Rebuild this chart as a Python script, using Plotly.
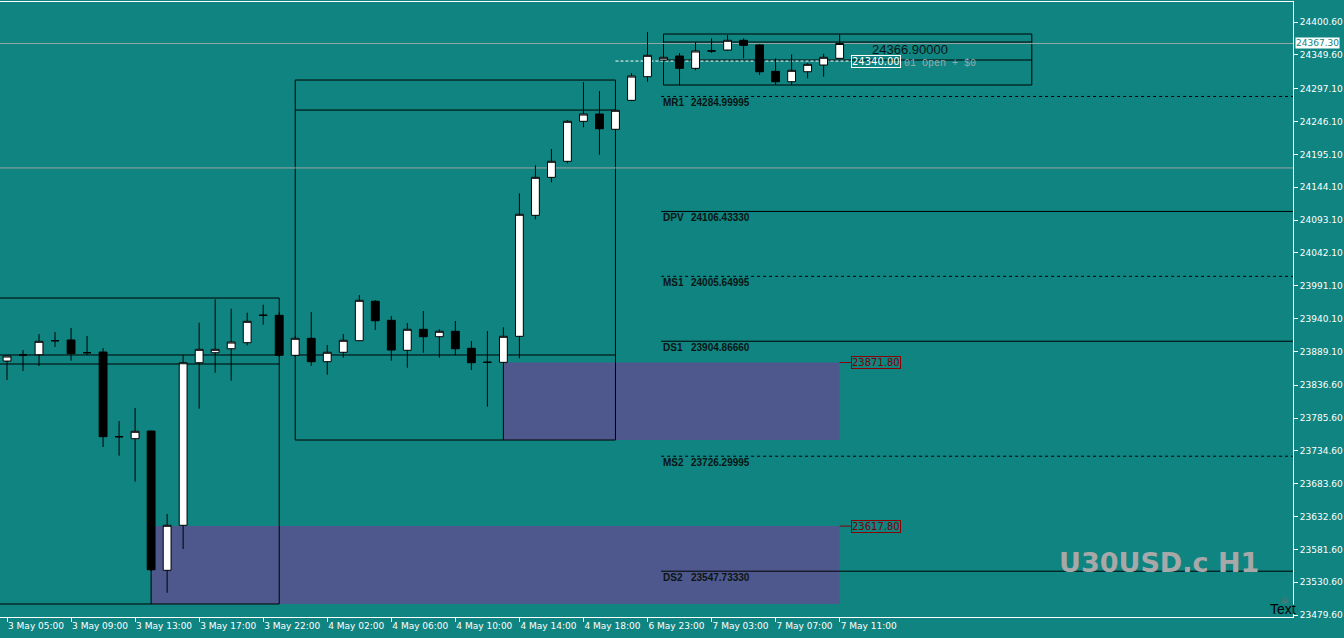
import plotly.graph_objects as go

# ---------------- data ----------------
bar_index = list(range(53))
opens = [23874.1, 23883.4, 23883.9, 23905.6, 23906.8, 23887.0, 23888.1, 23756.5, 23753.5, 23765.4,
         23549.1, 23619.0, 23871.5, 23887.0, 23893.2, 23902.6, 23945.1, 23945.1, 23883.0, 23909.4,
         23873.1, 23887.7, 23905.7, 23966.9, 23937.3, 23890.8, 23923.4, 23911.9, 23920.3, 23893.9,
         23872.1, 23872.1, 23912.5, 24100.4, 24159.4, 24184.3, 24246.4, 24257.7, 24234.0, 24279.0,
         24315.7, 24341.6, 24347.8, 24328.7, 24355.6, 24357.1, 24372.2, 24364.9, 24324.0, 24307.9,
         24323.4, 24333.8, 24344.2]
highs = [23881.9, 23891.2, 23916.1, 23919.2, 23925.4, 23913.0, 23894.3, 23781.0, 23801.2, 23766.0,
         23636.5, 23883.5, 23933.6, 23970.0, 23955.4, 23949.2, 23961.6, 23950.2, 23913.0, 23950.2,
         23899.0, 23916.1, 23976.6, 23968.9, 23944.0, 23933.2, 23951.8, 23923.4, 23936.3, 23905.2,
         23920.7, 23926.5, 24134.6, 24178.1, 24203.4, 24248.4, 24307.4, 24293.5, 24271.7, 24321.4,
         24385.1, 24346.2, 24352.5, 24369.1, 24375.3, 24380.4, 24375.3, 24366.4, 24344.2, 24350.4,
         24337.0, 24351.4, 24381.5]
lows = [23844.6, 23858.6, 23866.4, 23895.9, 23874.6, 23883.5, 23740.6, 23727.1, 23686.7, 23548.0,
        23514.3, 23582.2, 23800.1, 23856.0, 23843.5, 23898.5, 23930.5, 23880.4, 23880.4, 23866.4,
        23852.9, 23879.3, 23905.2, 23922.3, 23874.6, 23863.7, 23887.0, 23879.3, 23883.0, 23860.2,
        23803.2, 23871.8, 23878.3, 24094.2, 24151.7, 24181.2, 24237.1, 24194.5, 24232.9, 24277.9,
        24307.9, 24340.0, 24302.3, 24325.6, 24352.5, 24355.6, 24344.2, 24318.3, 24302.8, 24302.8,
        24313.2, 24315.7, 24344.2]
closes = [23881.9, 23883.5, 23904.7, 23905.7, 23885.5, 23887.1, 23756.6, 23756.6, 23765.0, 23550.0,
          23619.0, 23871.5, 23892.3, 23892.3, 23903.6, 23935.8, 23945.2, 23883.0, 23909.4, 23873.1,
          23887.7, 23906.3, 23968.4, 23936.7, 23891.2, 23923.4, 23911.9, 23920.3, 23893.2, 23871.5,
          23872.2, 23912.5, 24102.0, 24159.4, 24184.3, 24246.4, 24257.7, 24234.9, 24263.5, 24316.7,
          24348.9, 24345.8, 24328.7, 24355.6, 24355.7, 24372.2, 24364.4, 24323.4, 24307.9, 24325.6,
          24334.9, 24345.8, 24367.3]

time_tick_index = [0, 4, 8, 12, 16, 20, 24, 28, 32, 36, 40, 44, 48, 52]
time_tick_labels = ["3 May 05:00", "3 May 09:00", "3 May 13:00", "3 May 17:00", "3 May 22:00",
                    "4 May 02:00", "4 May 06:00", "4 May 10:00", "4 May 14:00", "4 May 18:00",
                    "6 May 23:00", "7 May 03:00", "7 May 07:00", "7 May 11:00"]

price_ticks = [24400.60, 24349.60, 24297.10, 24246.10, 24195.10, 24144.10, 24093.10, 24042.10,
               23991.10, 23940.10, 23889.10, 23836.60, 23785.60, 23734.60, 23683.60, 23632.60,
               23581.60, 23530.60, 23479.60]

pivot_names = ["MR1", "DPV", "MS1", "DS1", "MS2", "DS2"]
pivot_values = [24284.99995, 24106.43330, 24005.64995, 23904.86660, 23726.29995, 23547.73330]
pivot_dashed = [True, False, True, False, True, False]

bid_price = 24367.30
order_price = 24340.00
target_price = 24366.90000
zone_tops = [23871.80, 23617.80]
zone_bottoms = [23751.45, 23496.8]
zone_starts = [31, 9]

box1 = dict(x0=-1, x1=17, y0=23496.8, y1=23972.0, inner=[23883.5, 23869.5])
box2 = dict(x0=18, x1=38, y0=23751.45, y1=24310.5, inner=[24263.9, 23883.5])
box3 = dict(x0=41, x1=64, y0=24302.8, y1=24382.0, inner=[24369.5, 24341.6])
grey_level = 24174.0

# ---------------- styling ----------------
BG = "#108480"
ZONE = "#4f588c"
X_END = 80.4

fig = go.Figure()
fig.add_trace(go.Candlestick(
    x=bar_index, open=opens, high=highs, low=lows, close=closes,
    increasing=dict(fillcolor="white", line=dict(color="black", width=1)),
    decreasing=dict(fillcolor="black", line=dict(color="black", width=1)),
    whiskerwidth=0, showlegend=False, hoverinfo="skip"))

shapes = []
def line(x0, x1, y0, y1, color="black", width=1, dash="solid"):
    shapes.append(dict(type="line", xref="x", yref="y", x0=x0, x1=x1, y0=y0, y1=y1,
                       line=dict(color=color, width=width, dash=dash), layer="below"))

# zones
for s, t, b in zip(zone_starts, zone_tops, zone_bottoms):
    shapes.append(dict(type="rect", xref="x", yref="y", x0=s, x1=52, y0=b, y1=t,
                       fillcolor=ZONE, line=dict(width=0), layer="below"))
    line(s, s, b, t)
# boxes
for bx in (box1, box2, box3):
    shapes.append(dict(type="rect", xref="x", yref="y", x0=bx["x0"], x1=bx["x1"], y0=bx["y0"], y1=bx["y1"],
                       fillcolor="rgba(0,0,0,0)", line=dict(color="black", width=1), layer="below"))
    for lv in bx["inner"]:
        line(bx["x0"], bx["x1"], lv, lv)
# grey lines
line(-1, X_END, bid_price, bid_price, color="#98a6a5")
line(-1, X_END, grey_level, grey_level, color="#98a6a5")
# pivots
for v, d in zip(pivot_values, pivot_dashed):
    line(40.85, X_END, v, v, dash="3px,3px" if d else "solid")
# order line
line(38, 52.7, order_price, order_price, color="white", dash="3px,2px")
# red stubs
for t in zone_tops:
    line(52, 52.7, t, t, color="#8b0000")

annotations = []
for n, v in zip(pivot_names, pivot_values):
    for txt, sh in ((n, 0), ("%.5f" % v, 28)):
        annotations.append(dict(x=40.85, y=v, xref="x", yref="y", text=txt, showarrow=False,
                                xanchor="left", yanchor="middle", xshift=sh, yshift=-6,
                                font=dict(family="Liberation Sans, Arial", size=10, color="#0a1414",
                                          weight="bold")))
for t in zone_tops:
    annotations.append(dict(x=52.7, y=t, xref="x", yref="y", text="%.2f" % t, showarrow=False,
                            xanchor="left", yanchor="middle", bordercolor="#8b0000", borderwidth=1,
                            borderpad=0, font=dict(family="DejaVu Sans", size=10, color="#7a0000")))
annotations.append(dict(x=52.7, y=order_price, xref="x", yref="y", text="%.2f" % order_price,
                        showarrow=False, xanchor="left", yanchor="middle", bordercolor="white",
                        borderwidth=1, borderpad=0, font=dict(family="DejaVu Sans", size=10, color="white")))
annotations.append(dict(x=55.9, y=order_price, xref="x", yref="y", text="01 Open + $0", showarrow=False,
                        xanchor="left", yanchor="middle", yshift=-2,
                        font=dict(family="Liberation Mono", size=10, color="#a0a8a8")))
annotations.append(dict(x=53.9, y=target_price, xref="x", yref="y", text="%.5f" % target_price,
                        showarrow=False, xanchor="left", yanchor="middle", yshift=-6,
                        font=dict(family="Liberation Sans, Arial", size=13, color="#0a1414")))
annotations.append(dict(x=1, y=bid_price, xref="paper", yref="y", text="%.2f" % bid_price, showarrow=False,
                        xanchor="left", yanchor="middle", xshift=2, bgcolor="white", borderpad=0,
                        font=dict(family="DejaVu Sans", size=9, color=BG)))
annotations.append(dict(x=65.6, y=23562, xref="x", yref="y", text="U30USD.c H1", showarrow=False,
                        xanchor="left", yanchor="middle",
                        font=dict(family="DejaVu Sans", size=27, color="#a8a8a8", weight="bold")))
annotations.append(dict(x=1, y=23488.5, xref="paper", yref="y", text="Text", showarrow=False,
                        xanchor="right", yanchor="middle", xshift=5,
                        font=dict(family="Liberation Sans, Arial", size=14, color="black")))
annotations.append(dict(x=1, y=23503, xref="paper", yref="y", text="☠", showarrow=False,
                        xanchor="right", yanchor="middle", xshift=-2,
                        font=dict(family="DejaVu Sans", size=10, color="#707070")))

fig.update_layout(
    width=1344, height=638,
    margin=dict(l=0, r=51, t=2, b=21, autoexpand=False),
    paper_bgcolor=BG, plot_bgcolor=BG,
    shapes=shapes, annotations=annotations,
    showlegend=False, hovermode=False,
    xaxis=dict(type="linear", range=[-0.4375, 80.3125], rangeslider=dict(visible=False),
               tickmode="array", tickvals=time_tick_index, ticktext=time_tick_labels,
               ticks="outside", ticklen=4, tickcolor="white", tickwidth=1, tickangle=0,
               showline=True, linecolor="white", linewidth=1, mirror=True, automargin=False,
               showgrid=False, zeroline=False, ticklabelposition="outside right",
               tickfont=dict(family="DejaVu Sans", size=9, color="white")),
    yaxis=dict(side="right", range=[23476.6, 24431.7], tickmode="array", tickvals=price_ticks,
               ticktext=["%.2f" % p for p in price_ticks], automargin=False,
               ticks="outside", ticklen=4, tickcolor="white", tickwidth=1,
               showline=True, linecolor="white", linewidth=1,
               showgrid=False, zeroline=False,
               tickfont=dict(family="DejaVu Sans", size=9, color="white")),
)

fig.write_html("out.html", config={"displayModeBar": False},
               post_script="document.body.style.margin='0';document.body.style.overflow='hidden';")
